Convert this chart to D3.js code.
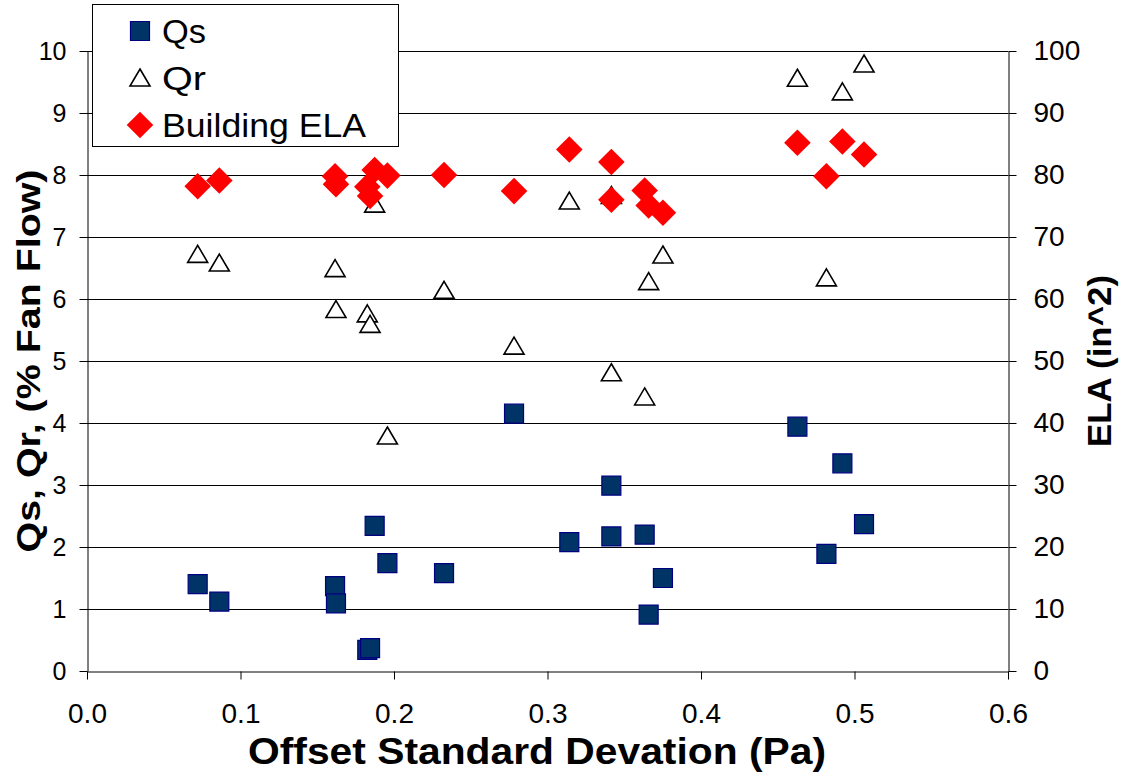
<!DOCTYPE html>
<html>
<head>
<meta charset="utf-8">
<script src="https://cdnjs.cloudflare.com/ajax/libs/d3/7.8.5/d3.min.js"></script>
<style>
  body { margin: 0; background: #fff; }
  svg { display: block; font-family: "Liberation Sans", Arial, sans-serif; }
</style>
</head>
<body>
<div id="chart"></div>
<script>
// offset standard deviation (Pa), one per test
var offsetSD = [0.0721, 0.0862, 0.1616, 0.1622, 0.1826, 0.1844, 0.1874, 0.1957, 0.2326, 0.2782,
                0.3142, 0.3416, 0.3416, 0.3633, 0.3659, 0.3752, 0.4628, 0.4817, 0.4921, 0.5062];
// Qs, % fan flow
var qs = [1.40, 1.12, 1.37, 1.09, 0.34, 0.37, 2.34, 1.74, 1.58, 4.15,
          2.08, 2.99, 2.17, 2.20, 0.91, 1.50, 3.94, 1.89, 3.35, 2.37];
// Qr, % fan flow
var qr = [6.72, 6.58, 6.49, 5.83, 5.76, 5.59, 7.53, 3.79, 6.14, 5.24,
          7.58, 7.67, 4.81, 4.42, 6.28, 6.71, 9.56, 6.34, 9.34, 9.79];
// building ELA, in^2
var ela = [78.2, 79.1, 79.8, 78.5, 78.1, 76.6, 80.8, 79.9, 80.0, 77.4,
           84.1, 82.1, 76.0, 77.5, 75.1, 73.9, 85.2, 79.8, 85.4, 83.3];

var xTicks = [0, 0.1, 0.2, 0.3, 0.4, 0.5, 0.6];
var leftTicks = [0, 1, 2, 3, 4, 5, 6, 7, 8, 9, 10];
var rightTicks = [0, 10, 20, 30, 40, 50, 60, 70, 80, 90, 100];
var seriesNames = ["Qs", "Qr", "Building ELA"];

var width = 1125, height = 775;
var plotLeft = 87, plotRight = 1008, plotTop = 51, plotBottom = 671;

var svg = d3.select("#chart").append("svg")
    .attr("width", width)
    .attr("height", height);

var x = d3.scaleLinear().domain([0, 0.6]).range([plotLeft, plotRight]);
var yL = d3.scaleLinear().domain([0, 10]).range([plotBottom, plotTop]);
var yR = d3.scaleLinear().domain([0, 100]).range([plotBottom, plotTop]);

// gridlines
svg.append("g")
    .selectAll("line")
    .data(leftTicks.slice(1))
    .enter()
    .append("line")
    .attr("x1", plotLeft).attr("x2", plotRight)
    .attr("y1", function (d) { return yL(d) + 0.5; })
    .attr("y2", function (d) { return yL(d) + 0.5; })
    .attr("stroke", "#000")
    .attr("stroke-width", 1);

// axes
var gx = svg.append("g")
    .attr("transform", "translate(0," + (plotBottom + 0.5) + ")")
    .call(d3.axisBottom(x).tickValues(xTicks).tickFormat(d3.format(".1f"))
        .tickSizeInner(8).tickSizeOuter(0).tickPadding(24));

var gl = svg.append("g")
    .attr("transform", "translate(" + (plotLeft + 0.5) + ",0)")
    .call(d3.axisLeft(yL).tickValues(leftTicks).tickFormat(d3.format("d"))
        .tickSizeInner(8).tickSizeOuter(0).tickPadding(13));

var gr = svg.append("g")
    .attr("transform", "translate(" + (plotRight + 0.5) + ",0)")
    .call(d3.axisRight(yR).tickValues(rightTicks).tickFormat(d3.format("d"))
        .tickSizeInner(8).tickSizeOuter(0).tickPadding(17));

[gx, gl, gr].forEach(function (g) {
    g.attr("font-family", "Liberation Sans, Arial, sans-serif");
    g.selectAll("path, line").attr("stroke", "#000").attr("stroke-width", 1);
    g.selectAll("text").attr("fill", "#000");
});
gx.attr("font-size", 28);
gl.attr("font-size", 25);
gr.attr("font-size", 28);

// axis titles
svg.append("text")
    .attr("x", 537)
    .attr("y", 764)
    .attr("text-anchor", "middle")
    .attr("font-weight", "bold")
    .attr("font-size", 36)
    .attr("textLength", 578)
    .attr("lengthAdjust", "spacingAndGlyphs")
    .text("Offset Standard Devation (Pa)");

svg.append("text")
    .attr("transform", "translate(40," + (plotTop + plotBottom) / 2 + ") rotate(-90)")
    .attr("text-anchor", "middle")
    .attr("font-weight", "bold")
    .attr("font-size", 34)
    .attr("textLength", 383)
    .attr("lengthAdjust", "spacingAndGlyphs")
    .text("Qs, Qr, (% Fan Flow)");

svg.append("text")
    .attr("transform", "translate(1111," + (plotTop + plotBottom) / 2 + ") rotate(-90)")
    .attr("text-anchor", "middle")
    .attr("font-weight", "bold")
    .attr("font-size", 33)
    .attr("textLength", 172)
    .attr("lengthAdjust", "spacingAndGlyphs")
    .text("ELA (in^2)");

// markers
var square = d3.symbol().type(d3.symbolSquare).size(19 * 19);
var triangle = "M0,-9L10,8L-10,8Z";
var diamond = d3.symbol().type(d3.symbolDiamond2).size(2 * 15 * 15);

function drawSquare(sel) {
    sel.attr("d", square)
        .attr("fill", "#003366")
        .attr("stroke", "#000080")
        .attr("stroke-width", 1.2);
}
function drawTriangle(sel) {
    sel.attr("d", triangle)
        .attr("fill", "#fff")
        .attr("stroke", "#000")
        .attr("stroke-width", 1.6);
}
function drawDiamond(sel) {
    sel.attr("d", diamond)
        .attr("fill", "#ff0000")
        .attr("stroke", "none");
}

svg.append("g").selectAll("path")
    .data(offsetSD)
    .enter()
    .append("path")
    .attr("transform", function (d, i) { return "translate(" + x(d) + "," + yL(qs[i]) + ")"; })
    .call(drawSquare);

svg.append("g").selectAll("path")
    .data(offsetSD)
    .enter()
    .append("path")
    .attr("transform", function (d, i) { return "translate(" + x(d) + "," + yL(qr[i]) + ")"; })
    .call(drawTriangle);

svg.append("g").selectAll("path")
    .data(offsetSD)
    .enter()
    .append("path")
    .attr("transform", function (d, i) { return "translate(" + x(d) + "," + yR(ela[i]) + ")"; })
    .call(drawDiamond);

// legend
var legend = svg.append("g");
legend.append("rect")
    .attr("x", 92.5).attr("y", 4.5)
    .attr("width", 306).attr("height", 142)
    .attr("fill", "#fff")
    .attr("stroke", "#000")
    .attr("stroke-width", 1);

var legendY = [31, 78, 125];
var legendLen = [44, 44, 204];
var drawers = [drawSquare, drawTriangle, drawDiamond];
seriesNames.forEach(function (name, i) {
    legend.append("path")
        .attr("transform", "translate(140," + legendY[i] + ")")
        .call(drawers[i]);
    legend.append("text")
        .attr("x", 162)
        .attr("y", legendY[i] + 12)
        .attr("font-size", 34)
        .attr("fill", "#000")
        .attr("textLength", legendLen[i])
        .attr("lengthAdjust", "spacingAndGlyphs")
        .text(name);
});
</script>
</body>
</html>
